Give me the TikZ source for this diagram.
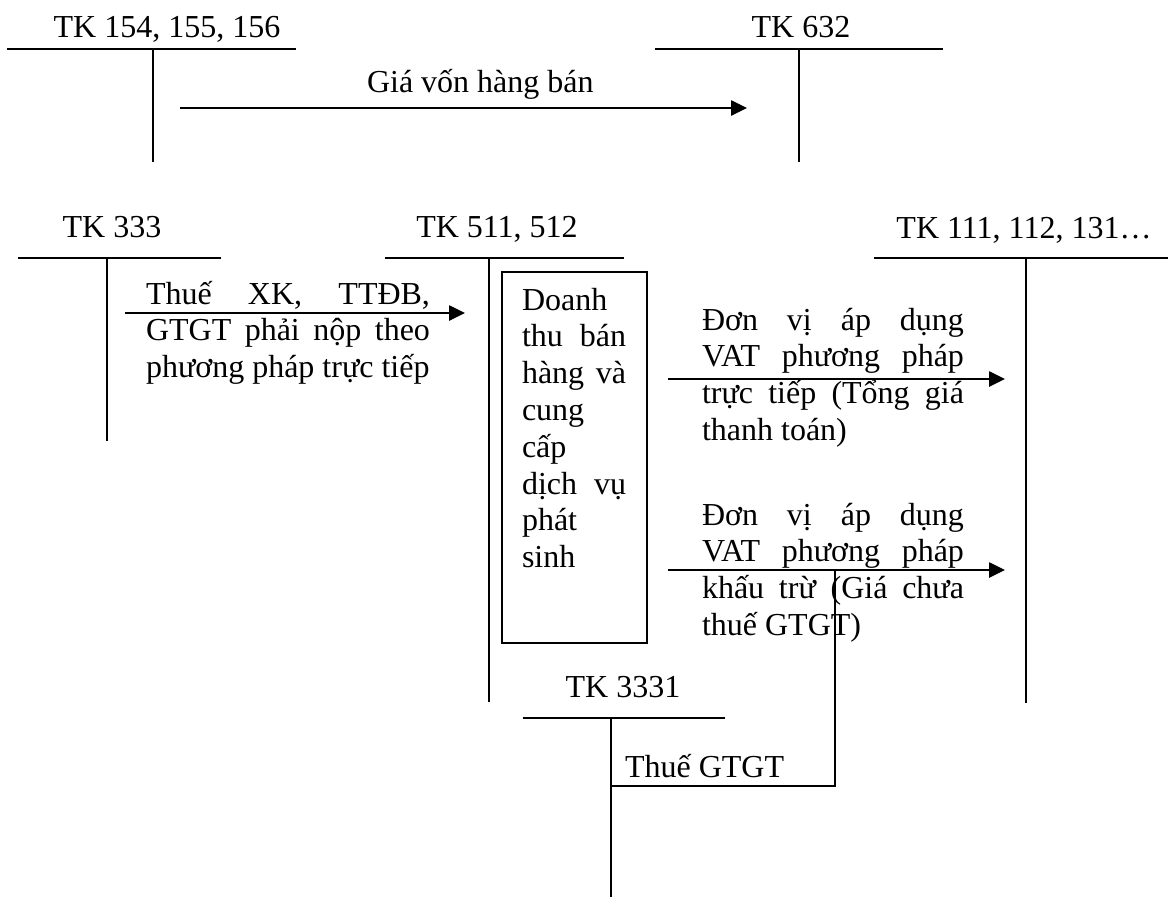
\documentclass[tikz,border=0pt]{standalone}
\usepackage{fontspec}
\setmainfont{Liberation Serif}
\usetikzlibrary{arrows.meta}
\newcommand{\jl}[2]{\hbox{\makebox[#1][s]{#2}}}
\newcommand{\pl}[1]{\hbox{#1}}
\newcommand{\txtblock}[1]{\vtop{\baselineskip=36.8pt\relax #1}}
\hbadness=10000
\begin{document}
\begin{tikzpicture}[x=1pt,y=-1pt,
  font=\fontsize{32}{36.8}\selectfont,
  tline/.style={line width=2pt},
  thin/.style={line width=1.6pt},
  arr/.style={line width=2.6pt,-{Triangle[length=16pt,width=15pt]}},
  lbl/.style={inner sep=0pt, outer sep=0pt}]
\useasboundingbox (0,0) rectangle (1176,897);

% T-account coordinates
\coordinate (a1l) at (7,49);   \coordinate (a1r) at (296,49);
\coordinate (a1t) at (153,49); \coordinate (a1b) at (153,162);
\coordinate (a2l) at (655,49); \coordinate (a2r) at (943,49);
\coordinate (a2t) at (799,49); \coordinate (a2b) at (799,162);
\coordinate (a3l) at (18,258); \coordinate (a3r) at (221,258);
\coordinate (a3t) at (107,258); \coordinate (a3b) at (107,441);
\coordinate (a4l) at (385,258); \coordinate (a4r) at (624,258);
\coordinate (a4t) at (489,258); \coordinate (a4b) at (489,702);
\coordinate (a5l) at (874,258); \coordinate (a5r) at (1168,258);
\coordinate (a5t) at (1026,258); \coordinate (a5b) at (1026,703);
\coordinate (a6l) at (523,718); \coordinate (a6r) at (725,718);
\coordinate (a6t) at (611,718); \coordinate (a6b) at (611,897);

% labels
\node[lbl,anchor=base] (t154) at (167,37) {TK 154, 155, 156};
\node[lbl,anchor=base] (t632) at (801,37) {TK 632};
\node[lbl,anchor=base] (t333) at (112,237) {TK 333};
\node[lbl,anchor=base] (t511) at (497,237) {TK 511, 512};
\node[lbl,anchor=base] (t111) at (1024,238) {TK 111, 112, 131…};
\node[lbl,anchor=base] (t3331) at (623,697) {TK 3331};

% T lines
\foreach \n in {1,...,6}{
  \draw[tline] (a\n l) -- (a\n r);
  \draw[tline] (a\n t) -- (a\n b);
}

% Giá vốn hàng bán
\coordinate (g1) at (180,108); \coordinate (g2) at (747,108);
\draw[arr] (g1) -- (g2);
\node[lbl,anchor=base west] (gv) at (367,92) {Giá vốn hàng bán};

% Thuế XK arrow
\coordinate (x1) at (125,313); \coordinate (x2) at (465,313);
\draw[arr] (x1) -- (x2);
\node[lbl,anchor=base west] (xk) at (146,304) {\txtblock{%
  \jl{284pt}{Thuế XK, TTĐB,}%
  \jl{284pt}{GTGT phải nộp theo}%
  \pl{phương pháp trực tiếp}}};

% revenue box
\draw[line width=2.5pt] (502,272) rectangle (647,643);
\node[lbl,anchor=base west] (dt) at (522,310) {\txtblock{%
  \pl{Doanh}%
  \jl{104pt}{thu bán}%
  \jl{104pt}{hàng và}%
  \pl{cung}%
  \pl{cấp}%
  \jl{104pt}{dịch vụ}%
  \pl{phát}%
  \pl{sinh}}};

% arrows to TK 111
\coordinate (r1s) at (668,379); \coordinate (r1e) at (1005,379);
\coordinate (r2s) at (668,570); \coordinate (r2e) at (1005,570);
\draw[arr] (r1s) -- (r1e);
\draw[arr] (r2s) -- (r2e);
\node[lbl,anchor=base west] (tt) at (702,330) {\txtblock{%
  \jl{262pt}{Đơn vị áp dụng}%
  \jl{262pt}{VAT phương pháp}%
  \jl{262pt}{trực tiếp (Tổng giá}%
  \pl{thanh toán)}}};
\node[lbl,anchor=base west] (kt) at (702,525) {\txtblock{%
  \jl{262pt}{Đơn vị áp dụng}%
  \jl{262pt}{VAT phương pháp}%
  \jl{262pt}{khấu trừ (Giá chưa}%
  \pl{thuế GTGT)}}};

% Thuế GTGT connector
\coordinate (c1) at (835,570); \coordinate (c2) at (835,786); \coordinate (c3) at (611,786);
\draw[thin] (c1) -- (c2) -- (c3);
\node[lbl,anchor=base west] (tg) at (625,777) {Thuế GTGT};
\end{tikzpicture}
\end{document}
